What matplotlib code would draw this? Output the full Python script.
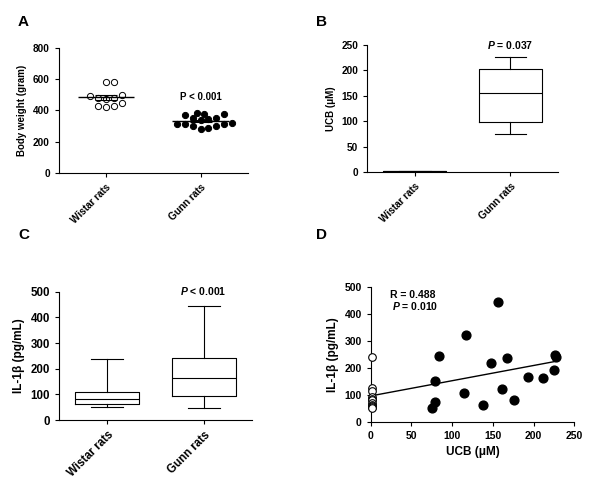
"""Four-panel figure: body weight, UCB, IL-1beta and UCB vs IL-1beta."""
import matplotlib
matplotlib.use("Agg")
import matplotlib.pyplot as plt
import numpy as np

plt.rcParams["font.family"] = ["Liberation Sans", "DejaVu Sans"]
plt.rcParams["font.weight"] = "bold"
plt.rcParams["axes.labelweight"] = "bold"
plt.rcParams["mathtext.fontset"] = "custom"
plt.rcParams["mathtext.it"] = "Liberation Sans:italic:bold"
plt.rcParams["mathtext.rm"] = "Liberation Sans:bold"

groups = ["Wistar rats", "Gunn rats"]

# A: body weight (g)
wistar_bw = [580, 580, 470, 480, 480, 490, 500, 430, 420, 430, 450]
gunn_bw = [380, 370, 385, 375, 350, 345, 350, 340, 310, 320, 300, 310, 280, 290, 300, 315]

# B: UCB (uM), box stats
ucb_box = [
    dict(med=1.2, q1=0.4, q3=2.2, whislo=0.2, whishi=2.6),
    dict(med=155, q1=99, q3=202, whislo=74, whishi=227),
]

# C: IL-1beta (pg/mL), box stats
il_box = [
    dict(med=83, q1=61, q3=110, whislo=52, whishi=238),
    dict(med=164, q1=93, q3=240, whislo=49, whishi=444),
]

# D: scatter UCB vs IL-1beta
wistar_ucb = [1.5, 1.5, 1.5, 1.5, 1.5, 1.5, 1.5, 1.5, 1.5, 1.5, 1.5]
wistar_il = [238, 125, 112, 90, 85, 80, 70, 62, 58, 55, 52]
gunn_ucb = [74.7, 78.8, 79.2, 83.7, 114.5, 117.4, 137.9, 147.4, 155.8, 160.8,
            167.5, 176.6, 193.3, 211.5, 225.0, 227.0, 228.0]
gunn_il = [52, 74, 150, 242, 107, 321, 62, 217, 444, 119,
           235, 80, 164, 160, 191, 247, 238]


def swarm_offsets(vals, px_x, px_y, diam):
    """Simple beeswarm: offsets in data units so markers don't overlap."""
    placed = []
    offs = []
    for v in vals:
        cands = [0.0]
        for k in range(1, 40):
            cands += [k * diam * 0.6, -k * diam * 0.6]
        for dx in cands:
            if all((dx - px) ** 2 + ((v - pv) * px_y) ** 2 >= diam ** 2 for px, pv in placed):
                break
        placed.append((dx, v))
        offs.append(dx / px_x)
    return np.array(offs)


def style(ax, size=7):
    ax.spines["top"].set_visible(False)
    ax.spines["right"].set_visible(False)
    ax.tick_params(labelsize=size, width=0.8, length=3)
    for s in ("left", "bottom"):
        ax.spines[s].set_linewidth(0.8)


def cat_axis(ax):
    ax.set_xlim(-0.5, 1.5)
    ax.set_xticks([0, 1])
    ax.set_xticklabels(groups, rotation=45, ha="right", rotation_mode="anchor")


fig = plt.figure(figsize=(6.0, 4.79), dpi=100)
axA = fig.add_axes([0.098, 0.639, 0.315, 0.261])
axB = fig.add_axes([0.612, 0.641, 0.318, 0.265])
axC = fig.add_axes([0.098, 0.123, 0.322, 0.268])
axD = fig.add_axes([0.618, 0.120, 0.339, 0.281])

# --- A
px_x = 0.315 * 600 / 2
px_y = 0.261 * 479 / 800
for i, vals in enumerate([wistar_bw, gunn_bw]):
    v = np.array(vals, dtype=float)
    order = np.argsort(v)
    offs = np.empty_like(v)
    offs[order] = swarm_offsets(v[order], px_x, px_y, 6.5)
    face = "white" if i == 0 else "black"
    axA.scatter(i + offs, v, s=20, facecolor=face, edgecolor="black", linewidth=0.7, zorder=3)
    m = v.mean()
    sem = v.std(ddof=1) / np.sqrt(len(v))
    axA.hlines(m, i - 0.3, i + 0.3, color="black", lw=1.0, zorder=4)
    axA.errorbar(i, m, yerr=sem, color="black", lw=0.8, capsize=8, capthick=0.8, zorder=4)
axA.set_ylim(0, 800)
axA.set_yticks(range(0, 801, 200))
axA.set_ylabel("Body weight (gram)", fontsize=7)
cat_axis(axA)
style(axA, 7.2)
axA.text(1, 452, "P < 0.001", ha="center", va="bottom", fontsize=7)

# --- box panels
for ax, stats, ylim, step, ptxt, py in [
    (axB, ucb_box, 250, 50, r"$P$ = 0.037", 238),
    (axC, il_box, 500, 100, r"$P$ < 0.001", 478),
]:
    ax.bxp(stats, positions=[0, 1], widths=0.66, capwidths=0.33, showfliers=False,
           boxprops=dict(lw=0.8), whiskerprops=dict(lw=0.8), capprops=dict(lw=0.8),
           medianprops=dict(color="black", lw=0.8))
    ax.set_ylim(0, ylim)
    ax.set_yticks(range(0, ylim + 1, step))
    cat_axis(ax)
    ax.text(1, py, ptxt, ha="center", va="bottom", fontsize=7.5)
style(axB, 7.2)
style(axC, 8.3)
axB.set_ylabel("UCB (\u03bcM)", fontsize=7)
axC.set_ylabel("IL-1\u03b2 (pg/mL)", fontsize=8.5)

# --- D
axD.scatter(wistar_ucb, wistar_il, s=30, facecolor="white", edgecolor="black", lw=0.8,
            zorder=3, clip_on=False)
axD.scatter(gunn_ucb, gunn_il, s=40, facecolor="black", edgecolor="black", zorder=3)
all_x = np.array(wistar_ucb + gunn_ucb)
all_y = np.array(wistar_il + gunn_il)
slope, icpt = np.polyfit(all_x, all_y, 1)
xs = np.array([0, all_x.max()])
axD.plot(xs, icpt + slope * xs, color="black", lw=1.0, zorder=2)
axD.set_xlim(0, 250)
axD.set_ylim(0, 500)
axD.set_xticks(range(0, 251, 50))
axD.set_yticks(range(0, 501, 100))
axD.set_xlabel("UCB (\u03bcM)", fontsize=8.5)
axD.set_ylabel("IL-1\u03b2 (pg/mL)", fontsize=8.5)
style(axD, 7.5)
axD.text(24, 470, "R = 0.488", fontsize=7.5, ha="left", va="center")
axD.text(26, 428, r"$P$ = 0.010", fontsize=7.5, ha="left", va="center")

for lbl, x, y in [("A", 0.03, 0.955), ("B", 0.527, 0.955), ("C", 0.03, 0.51), ("D", 0.527, 0.51)]:
    fig.text(x, y, lbl, fontsize=11, fontweight="bold", ha="left", va="center")

fig.savefig("out.png", dpi=100)
